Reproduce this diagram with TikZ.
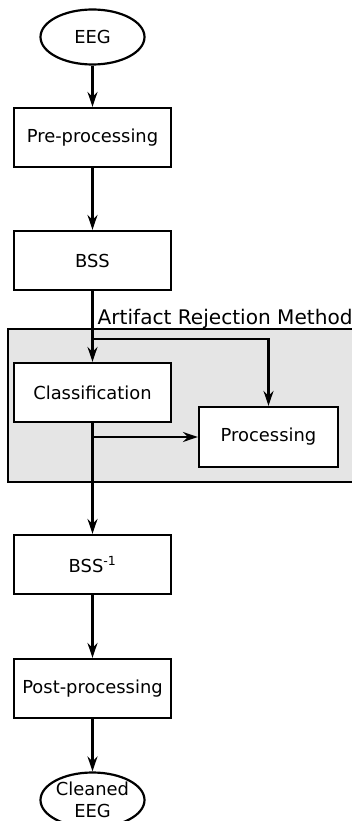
\documentclass[tikz,border=0pt]{standalone}
\usepackage{fontspec}
\setmainfont{DejaVu Sans}
\usetikzlibrary{arrows.meta,shapes.geometric}
\definecolor{panelgray}{HTML}{E5E5E5}
\tikzset{
  every node/.style={font=\fontsize{17.9}{22}\selectfont},
  stepbox/.style={draw, line width=2.2pt, fill=white, minimum width=157pt, minimum height=59pt, inner sep=0pt},
  terminal/.style={draw, ellipse, line width=2.2pt, fill=white, minimum width=104pt, minimum height=55pt, inner sep=0pt, align=center},
  flow/.style={line width=2.2pt, -{Stealth[length=15pt, width=10pt, inset=5pt]}},
}
\begin{document}
\begin{tikzpicture}[x=1pt, y=-1pt]
  \useasboundingbox (0,0) rectangle (352,821);
  \begin{scope}
    \clip (0,0) rectangle (352,821);
    % panel of the artifact rejection stage
    \draw[line width=2.2pt, fill=panelgray] (8,329) rectangle (358,482);
    \node[anchor=base west, inner sep=0pt, font=\fontsize{20.1}{24}\selectfont] (panel) at (97.5,324) {Artifact Rejection Method};

    \node[terminal] (eeg) at (92.5,37) {EEG};
    \node[stepbox] (pre) at (92.5,137.5) {Pre-processing};
    \node[stepbox] (bss) at (92.5,260.5) {BSS};
    \node[stepbox] (cls) at (92.5,392.5) {Classification};
    \node[stepbox, minimum width=139pt, minimum height=60pt] (proc) at (268.5,437) {Processing};
    \node[stepbox] (bssinv) at (92.5,564.5) {BSS\textsuperscript{-1}};
    \node[stepbox] (post) at (92.5,688.5) {Post-processing};
    \node[terminal] (clean) at (92.5,800) {Cleaned\\EEG};

    \coordinate (split1) at (92.5,339);
    \coordinate (split2) at (92.5,437);

    \draw[flow] (eeg) -- (pre);
    \draw[flow] (pre) -- (bss);
    \draw[flow] (bss) -- (cls);
    \draw[flow] (split1) -| (proc.north);
    \draw[flow] (cls) -- (bssinv);
    \draw[flow] (split2) -- (proc.west);
    \draw[flow] (bssinv) -- (post);
    \draw[flow] (post) -- (clean);
  \end{scope}
\end{tikzpicture}
\end{document}
